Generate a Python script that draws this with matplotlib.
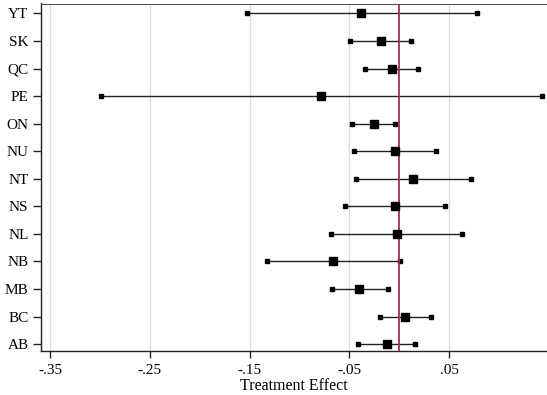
import matplotlib
matplotlib.use('Agg')
import matplotlib.pyplot as plt

# provinces top to bottom, as in the figure
regions = ['YT', 'SK', 'QC', 'PE', 'ON', 'NU', 'NT', 'NS', 'NL', 'NB', 'MB', 'BC', 'AB']
estimate = [-0.038, -0.018, -0.007, -0.078, -0.025, -0.004, 0.014, -0.004, -0.002, -0.066, -0.040, 0.006, -0.012]
lower = [-0.153, -0.049, -0.034, -0.299, -0.047, -0.045, -0.043, -0.054, -0.068, -0.133, -0.067, -0.019, -0.041]
upper = [0.078, 0.012, 0.019, 0.143, -0.004, 0.037, 0.072, 0.046, 0.063, 0.001, -0.011, 0.032, 0.016]
xticks = [-0.35, -0.25, -0.15, -0.05, 0.05]
xticklabels = ['-.35', '-.25', '-.15', '-.05', '.05']

plt.rcParams['font.family'] = ['Liberation Serif', 'DejaVu Serif']

fig = plt.figure(figsize=(5.47, 3.95), dpi=100)
ax = fig.add_axes([41 / 547, 1 - 351 / 395, 1 - 41 / 547, (351 - 3.5) / 395])

n = len(regions)
ypos = list(range(n, 0, -1))

for x in xticks:
    ax.axvline(x, color='#dcdcdc', lw=1, zorder=0)

ax.hlines(ypos, lower, upper, color='#222222', lw=1, zorder=2)
ax.plot(lower, ypos, 's', color='black', ms=2.5, zorder=3)
ax.plot(upper, ypos, 's', color='black', ms=2.5, zorder=3)
ax.axvline(0, color='#b5264d', lw=1.3, zorder=4)
ax.plot(estimate, ypos, 's', color='black', ms=5.5, zorder=5)

ax.set_xlim(-0.359, 0.148)
ax.set_ylim(0.75, 13.36)
ax.set_yticks(ypos)
ax.set_yticklabels(regions, fontsize=11)
ax.set_xticks(xticks)
ax.set_xticklabels(xticklabels, fontsize=11)
ax.set_xlabel('Treatment Effect', fontsize=11.5, labelpad=1)

ax.spines['right'].set_visible(False)
ax.spines['top'].set_color('#555555')
for s in ['left', 'bottom']:
    ax.spines[s].set_color('#222222')
    ax.spines[s].set_linewidth(1)
ax.tick_params(axis='x', length=5, width=1, color='#222222', pad=4)
ax.tick_params(axis='y', length=6, width=1, color='#222222', pad=3)

fig.savefig('out.png', dpi=100)
